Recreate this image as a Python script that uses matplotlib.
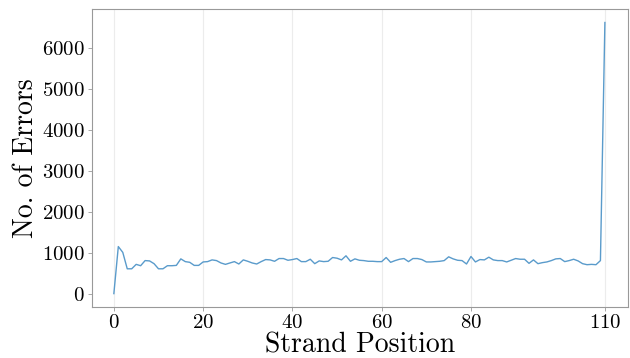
import numpy as np
import matplotlib
matplotlib.use('Agg')
import matplotlib.pyplot as plt

plt.rcParams['font.family'] = 'serif'
plt.rcParams['font.serif'] = ['cmr10']
plt.rcParams['mathtext.fontset'] = 'cm'
plt.rcParams['axes.formatter.use_mathtext'] = True

# errors per strand position (0..110)
errors = [
    20, 1167, 1025, 625, 625, 733, 700, 825, 817, 750,
    625, 625, 700, 700, 708, 867, 800, 783, 708, 708,
    792, 800, 842, 825, 767, 733, 767, 800, 742, 842,
    808, 767, 742, 800, 850, 842, 808, 875, 875, 833,
    850, 875, 800, 800, 858, 750, 817, 800, 808, 900,
    883, 842, 942, 808, 867, 833, 825, 808, 808, 800,
    800, 900, 783, 825, 858, 875, 800, 875, 875, 850,
    792, 792, 800, 808, 825, 917, 867, 833, 825, 742,
    925, 792, 850, 842, 908, 842, 825, 825, 792, 833,
    875, 858, 858, 758, 842, 750, 775, 792, 825, 867,
    875, 800, 825, 858, 817, 750, 725, 733, 725, 825,
    6630,
]
positions = np.arange(len(errors))
x_ticks = [0, 20, 40, 60, 80, 110]

fig, ax = plt.subplots(figsize=(6.3, 3.58), dpi=100)
fig.subplots_adjust(left=0.146, right=0.997, top=0.975, bottom=0.142)

ax.plot(positions, errors, color='#5a9bcb', linewidth=1.0)

ax.set_xlim(-4.9, 115.2)
ax.set_xticks(x_ticks)
ax.set_yticks([0, 1000, 2000, 3000, 4000, 5000, 6000])
ax.grid(axis='x', color='#ececec', linewidth=0.8)
ax.set_axisbelow(True)
for s in ax.spines.values():
    s.set_color('#999999')
    s.set_linewidth(0.8)
ax.tick_params(axis='both', labelsize=15, length=3, width=0.6, color='#999999', pad=2)

ax.set_xlabel('Strand Position', fontsize=20, labelpad=0)
ax.set_ylabel('No. of Errors', fontsize=20, labelpad=2)

fig.savefig('out.png', dpi=100)
